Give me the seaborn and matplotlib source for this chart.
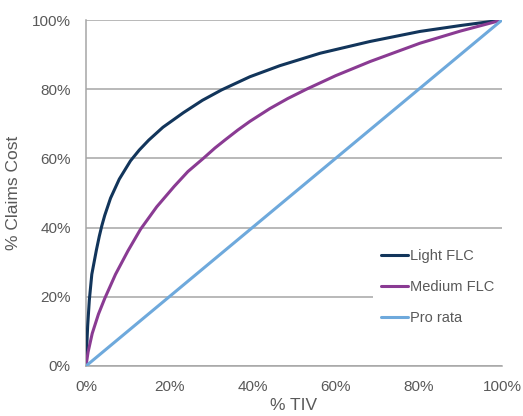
import matplotlib
matplotlib.use("Agg")
import matplotlib.pyplot as plt
import seaborn as sns
import pandas as pd
from matplotlib.ticker import PercentFormatter

# % TIV vs % claims cost
light_x = [0, 0.2, 0.4, 0.8, 1.4, 2.5, 3.2, 3.8, 4.5, 5.9, 8, 10.7, 12.8, 15.1,
           18.5, 23.4, 28, 32.6, 39.4, 46.6, 56.3, 68.3, 80.3, 90, 100]
light_y = [0, 6, 11.5, 19, 26.5, 33.5, 37.5, 40.5, 43.5, 48.5, 54, 59.3, 62.4,
           65.3, 69, 73.2, 76.8, 79.8, 83.6, 86.8, 90.4, 93.8, 96.7, 98.4, 100]

medium_x = [0, 0.5, 1.5, 3, 4.5, 7.1, 10.1, 13.1, 17, 21.2, 24.5, 28.2, 31,
            33.5, 36.5, 39.4, 44.2, 48.5, 53, 60, 68.3, 80.3, 90, 100]
medium_y = [0, 4, 9.4, 15, 19.5, 26.5, 33.3, 39.5, 46, 51.9, 56.2, 60, 63,
            65.4, 68.2, 70.7, 74.4, 77.3, 80, 83.9, 88, 93.3, 96.8, 100]

prorata_x = [0, 100]
prorata_y = [0, 100]

series_names = ["Light FLC", "Medium FLC", "Pro rata"]
colors = ["#12355B", "#8A3B93", "#6EA9DC"]

sns.set_style("white")
plt.rcParams["font.family"] = ["Liberation Sans", "DejaVu Sans"]

text_color = "#595959"
grid_color = "#A6A6A6"

fig = plt.figure(figsize=(5.23, 4.16), dpi=100)
ax = fig.add_axes([0.1644, 0.1202, 0.7954, 0.8317])

for name, xs, ys, c in zip(series_names,
                           [light_x, medium_x, prorata_x],
                           [light_y, medium_y, prorata_y],
                           colors):
    df = pd.DataFrame({"tiv": xs, "cost": ys})
    sns.lineplot(data=df, x="tiv", y="cost", ax=ax, color=c, lw=2.2,
                 label=name, sort=False, zorder=3)

ax.set_xlim(0, 100)
ax.set_ylim(0, 100)
ax.set_xticks(range(0, 101, 20))
ax.set_yticks(range(0, 101, 20))
ax.xaxis.set_major_formatter(PercentFormatter(decimals=0))
ax.yaxis.set_major_formatter(PercentFormatter(decimals=0))

ax.yaxis.grid(True, color=grid_color, lw=1.1)
ax.xaxis.grid(False)
ax.set_axisbelow(True)
for s in ["top", "right"]:
    ax.spines[s].set_visible(False)
for s in ["left", "bottom"]:
    ax.spines[s].set_color(grid_color)
    ax.spines[s].set_linewidth(1.1)

ax.tick_params(axis="x", length=0, labelsize=11, labelcolor=text_color, pad=10)
ax.tick_params(axis="y", length=0, labelsize=11, labelcolor=text_color, pad=11)
ax.set_xlabel("% TIV", fontsize=12.5, color=text_color, labelpad=3)
ax.set_ylabel("% Claims Cost", fontsize=12.5, color=text_color, labelpad=8)

leg = ax.legend(loc="upper left", bbox_to_anchor=(0.673, 0.38), fontsize=10.5,
                frameon=True, facecolor="white", edgecolor="none", framealpha=1,
                fancybox=False, handlelength=1.9, handletextpad=0.15,
                labelspacing=1.15, borderpad=0.5)
for t in leg.get_texts():
    t.set_color(text_color)

fig.savefig("out.png", dpi=100)
